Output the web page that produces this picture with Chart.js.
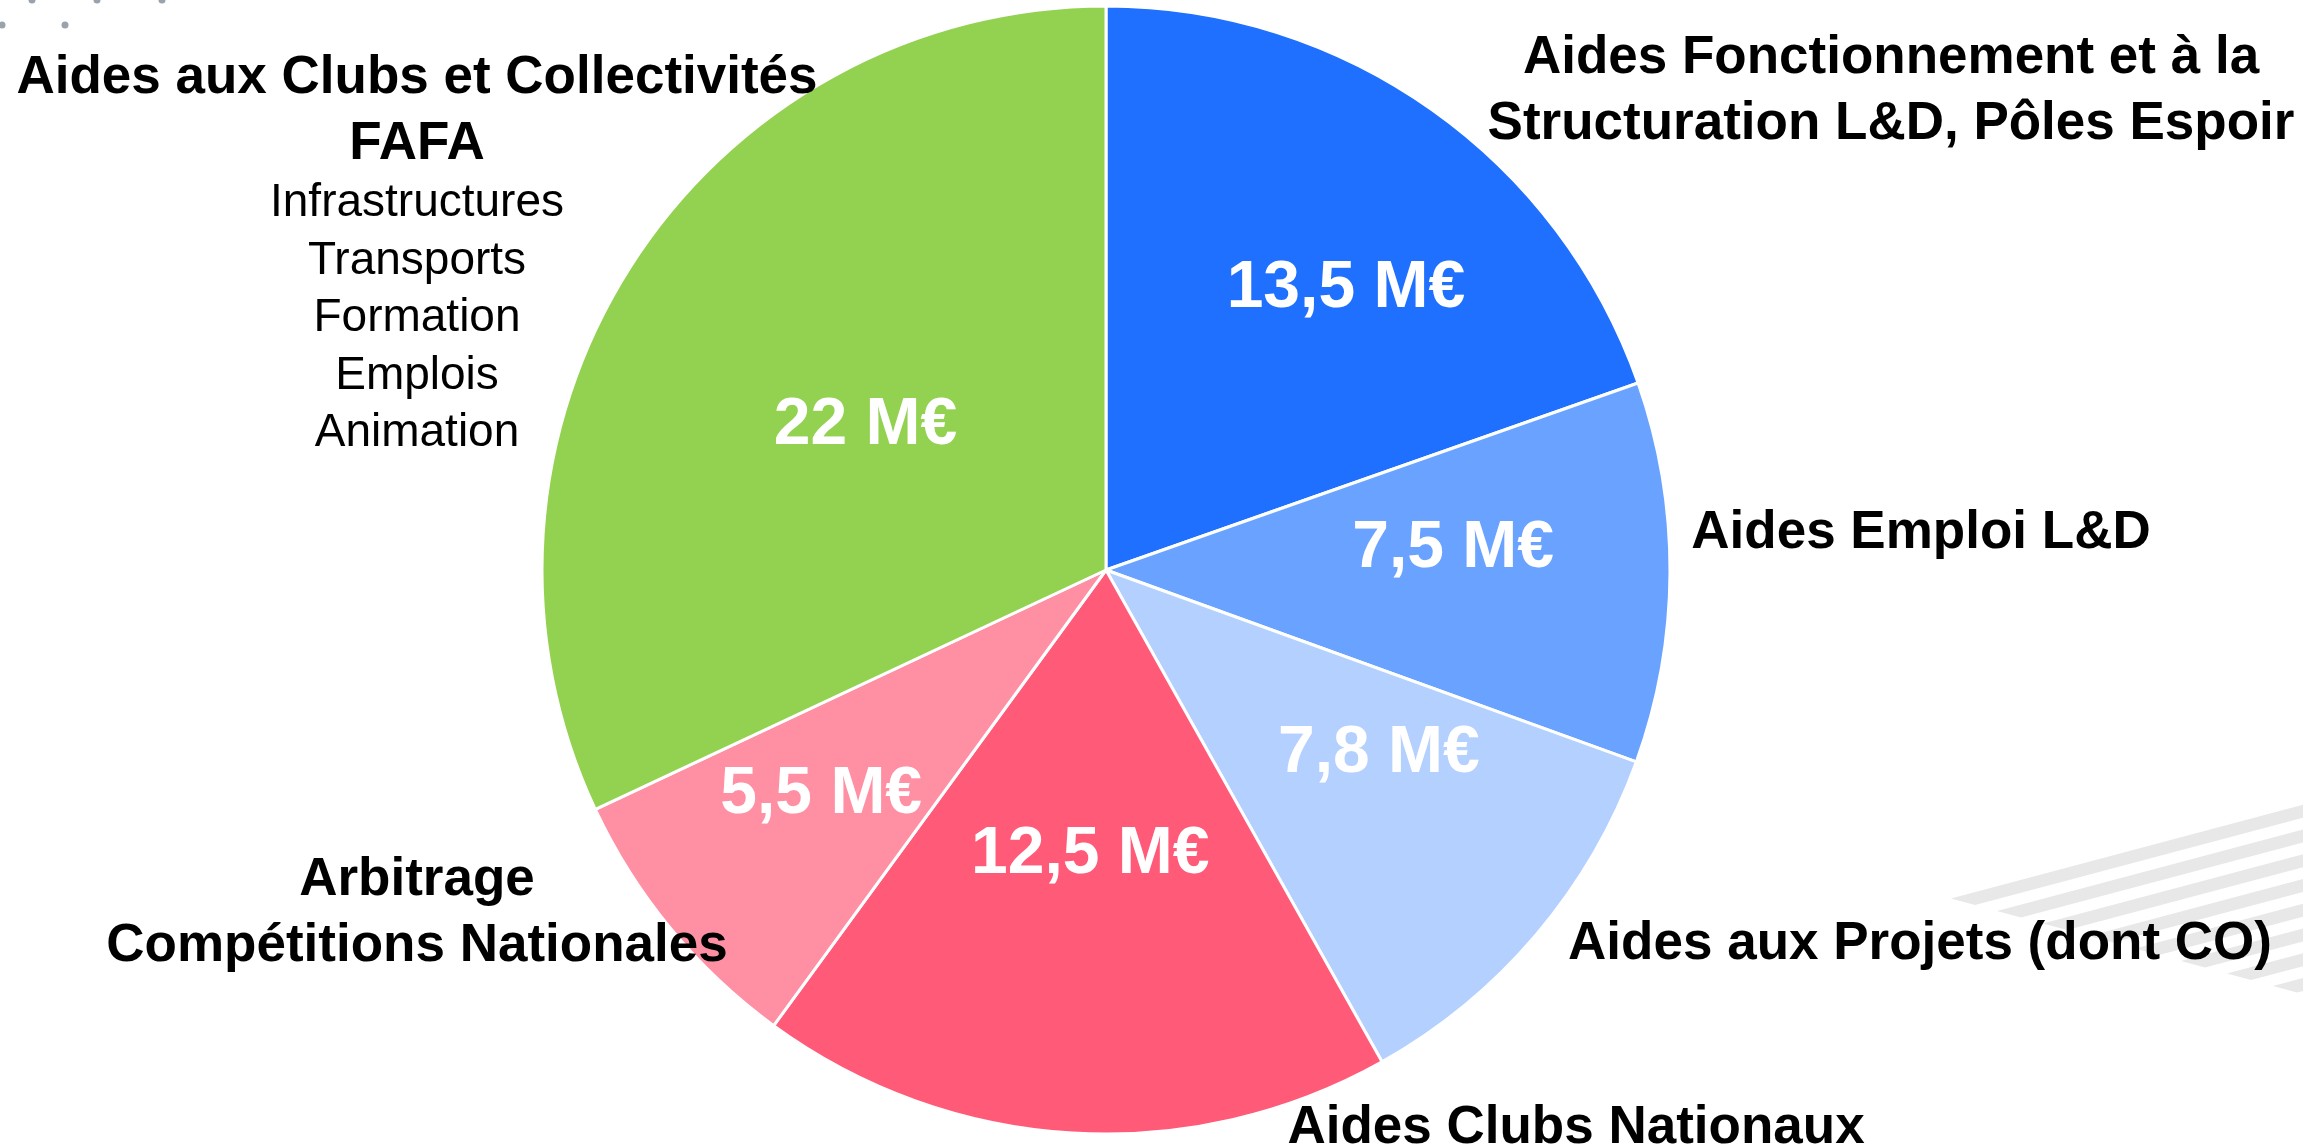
<!DOCTYPE html>
<html lang="fr">
<head>
<meta charset="utf-8">
<title>Répartition des aides</title>
<script src="https://cdn.jsdelivr.net/npm/chart.js@4.4.1/dist/chart.umd.min.js"></script>
<style>
  html, body { margin:0; padding:0; background:#fff; }
  #wrap { width:2303px; height:1148px; position:relative; overflow:hidden; }
</style>
</head>
<body>
<div id="wrap"><canvas id="pie" width="2303" height="1148"></canvas></div>
<script>
// slice data, clockwise from 12 o'clock
const categories = [
  'Aides Fonctionnement et à la Structuration L&D, Pôles Espoir',
  'Aides Emploi L&D',
  'Aides aux Projets (dont CO)',
  'Aides Clubs Nationaux',
  'Arbitrage Compétitions Nationales',
  'Aides aux Clubs et Collectivités FAFA'
];
const amounts = [13.5, 7.5, 7.8, 12.5, 5.5, 22];
const sliceColors = ['#1f70ff', '#6aa3ff', '#b4d0ff', '#ff5a78', '#ff8fa3', '#93d150'];

// text blocks around the pie
const titleLines = [
  ['Aides Fonctionnement et à la', 'Structuration L&D, Pôles Espoir'],
  ['Aides Emploi L&D'],
  ['Aides aux Projets (dont CO)'],
  ['Aides Clubs Nationaux'],
  ['Arbitrage', 'Compétitions Nationales'],
  ['Aides aux Clubs et Collectivités', 'FAFA']
];
const fafaDetails = ['Infrastructures', 'Transports', 'Formation', 'Emplois', 'Animation'];

const fmtMillions = v => String(v).replace('.', ',') + ' M€';

const BOLD = 'bold 53px "Liberation Sans", Arial, sans-serif';
const REG = '46px "Liberation Sans", Arial, sans-serif';

// background decoration: grey dots top-left, light stripes bottom-right
const backdrop = {
  id: 'backdrop',
  beforeDraw(chart){
    const c = chart.ctx;
    c.save();
    c.fillStyle = '#9aa3ab';
    [[32,0],[97,0],[162,0],[2,25],[65,25]].forEach(p=>{ c.beginPath(); c.arc(p[0],p[1],3.5,0,Math.PI*2); c.fill(); });
    c.fillStyle = '#e8e8e8';
    const slope = 0.266, W = chart.width;
    for(let k=0;k<8;k++){
      const ax = 1975 + 46*k, ay = 905 + 12.5*k;
      const bx = ax - 24, by = ay - 6.5;
      c.beginPath();
      c.moveTo(ax, ay);
      c.lineTo(bx, by);
      c.lineTo(W, by - slope*(W-bx));
      c.lineTo(W, ay - slope*(W-ax));
      c.closePath();
      c.fill();
    }
    c.restore();
  }
};

// values inside slices + category texts outside
const sliceText = {
  id: 'sliceText',
  afterDatasetsDraw(chart, args, opts){
    const c = chart.ctx;
    const arcs = chart.getDatasetMeta(0).data;
    c.save();
    c.fillStyle = '#fff';
    c.font = 'bold 66px "Liberation Sans", Arial, sans-serif';
    c.textAlign = 'center';
    c.textBaseline = 'middle';
    arcs.forEach((arc, i)=>{
      const p = arc.getProps(['x','y','startAngle','endAngle','outerRadius'], true);
      const a = (p.startAngle + p.endAngle)/2 + opts.turn[i]*Math.PI/180;
      const r = p.outerRadius*opts.radius[i];
      c.fillText(fmtMillions(amounts[i]), p.x + Math.cos(a)*r, p.y + Math.sin(a)*r + 3);
    });

    c.fillStyle = '#000';
    c.textBaseline = 'alphabetic';
    c.font = BOLD;
    titleLines.forEach((lines, i)=>{
      const pos = opts.titles[i];
      lines.forEach((t, j)=> c.fillText(t, pos.x, pos.y + j*opts.lineGap));
    });
    c.font = REG;
    fafaDetails.forEach((t, j)=> c.fillText(t, opts.details.x, opts.details.y + j*opts.details.gap));
    c.restore();
  }
};

new Chart(document.getElementById('pie'), {
  type: 'pie',
  data: {
    labels: categories,
    datasets: [{
      data: amounts,
      backgroundColor: sliceColors,
      borderColor: '#ffffff',
      borderWidth: 3,
      hoverBorderWidth: 3,
      hoverOffset: 0
    }]
  },
  options: {
    responsive: false,
    animation: false,
    events: [],
    layout: { padding: { left: 540.5, right: 631.5, top: 4.5, bottom: 12.5 } },
    plugins: {
      legend: { display: false },
      tooltip: { enabled: false },
      sliceText: {
        radius: [0.66, 0.617, 0.58, 0.50, 0.64, 0.50],
        turn:   [4.8, -4.3, -6.8, -0.2, 1.6, -1.0],
        lineGap: 66,
        titles: [
          {x:1891, y:73},
          {x:1921, y:548},
          {x:1920, y:959},
          {x:1576, y:1143},
          {x:417, y:895},
          {x:417, y:93}
        ],
        details: {x:417, y:216, gap:57.5}
      }
    }
  },
  plugins: [backdrop, sliceText]
});
</script>
</body>
</html>
